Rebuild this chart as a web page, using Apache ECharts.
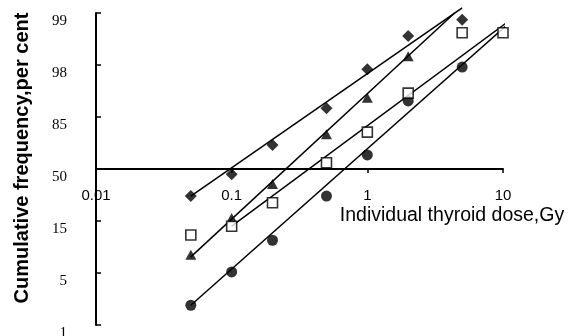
<!DOCTYPE html>
<html>
<head>
<meta charset="utf-8">
<script src="https://cdn.jsdelivr.net/npm/echarts@6/dist/echarts.min.js"></script>
<style>html,body{margin:0;padding:0;background:#fff}#c{width:569px;height:336px}</style>
</head>
<body>
<div id="c"></div>
<script>
// Doses (Gy) at which frequencies were observed
var doses = [0.05, 0.1, 0.2, 0.5, 1, 2, 5, 10];
// Cumulative frequency in probit units (axis position: 50% = 0, each labelled step = 1)
var diamondVals  = [-0.52, -0.10, 0.46, 1.17, 1.92, 2.56, 2.87];
var triangleVals = [-1.65, -0.94, -0.29, 0.67, 1.37, 2.17];
var squareVals   = [-1.27, -1.10, -0.65, 0.12, 0.71, 1.46, 2.62, 2.62];
var circleVals   = [-2.62, -1.98, -1.37, -0.52, 0.27, 1.31, 1.96];
// Fitted lines (endpoints)
var diamondFitX  = [0.05, 5.0];   var diamondFitY  = [-0.52, 3.10];
var triangleFitX = [0.05, 4.4];   var triangleFitY = [-1.69, 3.00];
var squareFitX   = [0.1, 11.1];   var squareFitY   = [-1.10, 2.85];
var circleFitX   = [0.05, 10.7];  var circleFitY   = [-2.62, 2.77];
// Y tick labels (cumulative frequency, per cent) at probit positions -3..3
var yTickPos    = [-3, -2, -1, 0, 1, 2, 3];
var yTickLabels = ['1', '5', '15', '50', '85', '98', '99'];
var xTickLabels = ['0.01', '0.1', '1', '10'];

function pairs(xs, ys) { return ys.map(function (v, i) { return [xs[i], v]; }); }

var chart = echarts.init(document.getElementById('c'), null, { renderer: 'canvas' });
var fitStyle = { color: '#000', width: 1.5 };
function fit(xs, ys) {
  return { type: 'line', data: pairs(xs, ys), symbol: 'none', clip: false, silent: true,
           lineStyle: fitStyle, z: 2, animation: false };
}
var gridTop = 13, gridBottomPx = 325;
// x axis sits where the y axis has value 0 (50 %): midway between -3 and 3
var xAxisOffset = -((gridBottomPx - gridTop) / 2);
chart.setOption({
  animation: false,
  grid: { left: 96, right: 66, top: gridTop, bottom: 336 - gridBottomPx, outerBoundsMode: 'none', containLabel: false },
  xAxis: {
    type: 'log', logBase: 10, min: 0.01, max: 10,
    offset: xAxisOffset,
    axisLine: { onZero: false, lineStyle: { color: '#000', width: 2 } },
    axisTick: { show: true, length: 4, lineStyle: { color: '#000', width: 1.5 } },
    minorTick: { show: false },
    splitLine: { show: false },
    axisLabel: {
      margin: 19, color: '#000', fontFamily: 'Liberation Sans', fontSize: 15,
      formatter: function (v) {
        var i = Math.round(Math.log10(v)) + 2;
        return xTickLabels[i] !== undefined ? xTickLabels[i] : '';
      }
    }
  },
  yAxis: {
    type: 'value', min: -3, max: 3, interval: 1,
    axisLine: { show: true, onZero: false, lineStyle: { color: '#000', width: 2 } },
    axisTick: { show: true, inside: true, length: 5, lineStyle: { color: '#000', width: 1.5 } },
    splitLine: { show: false },
    axisLabel: {
      margin: 29, color: '#000', fontFamily: 'Liberation Serif', fontSize: 15,
      verticalAlign: 'top', lineHeight: 17,
      formatter: function (v) {
        var i = yTickPos.indexOf(Math.round(v));
        return i >= 0 ? yTickLabels[i] : '';
      }
    }
  },
  graphic: [
    { type: 'text', x: 22, y: 158, rotation: Math.PI / 2,
      style: { text: 'Cumulative frequency,per cent', fill: '#000', font: 'bold 20px "Liberation Sans"',
               textAlign: 'center', textVerticalAlign: 'middle' } },
    { type: 'text', x: 452, y: 216,
      style: { text: 'Individual thyroid dose,Gy', fill: '#000', font: '19.5px "Liberation Sans"',
               textAlign: 'center', textVerticalAlign: 'middle' } }
  ],
  series: [
    fit(diamondFitX, diamondFitY),
    fit(triangleFitX, triangleFitY),
    fit(squareFitX, squareFitY),
    fit(circleFitX, circleFitY),
    { type: 'scatter', data: pairs(doses, diamondVals), symbol: 'diamond', symbolSize: [12, 12],
      itemStyle: { color: '#000' }, z: 3 },
    { type: 'scatter', data: pairs(doses, triangleVals), symbol: 'triangle', symbolSize: [11, 10],
      itemStyle: { color: '#000' }, z: 3 },
    { type: 'scatter', data: pairs(doses, squareVals), symbol: 'rect', symbolSize: 10,
      itemStyle: { color: '#fff', borderColor: '#000', borderWidth: 1.6 }, z: 4 },
    { type: 'scatter', data: pairs(doses, circleVals), symbol: 'circle', symbolSize: 11,
      itemStyle: { color: '#000' }, z: 3 }
  ]
});
</script>
</body>
</html>
